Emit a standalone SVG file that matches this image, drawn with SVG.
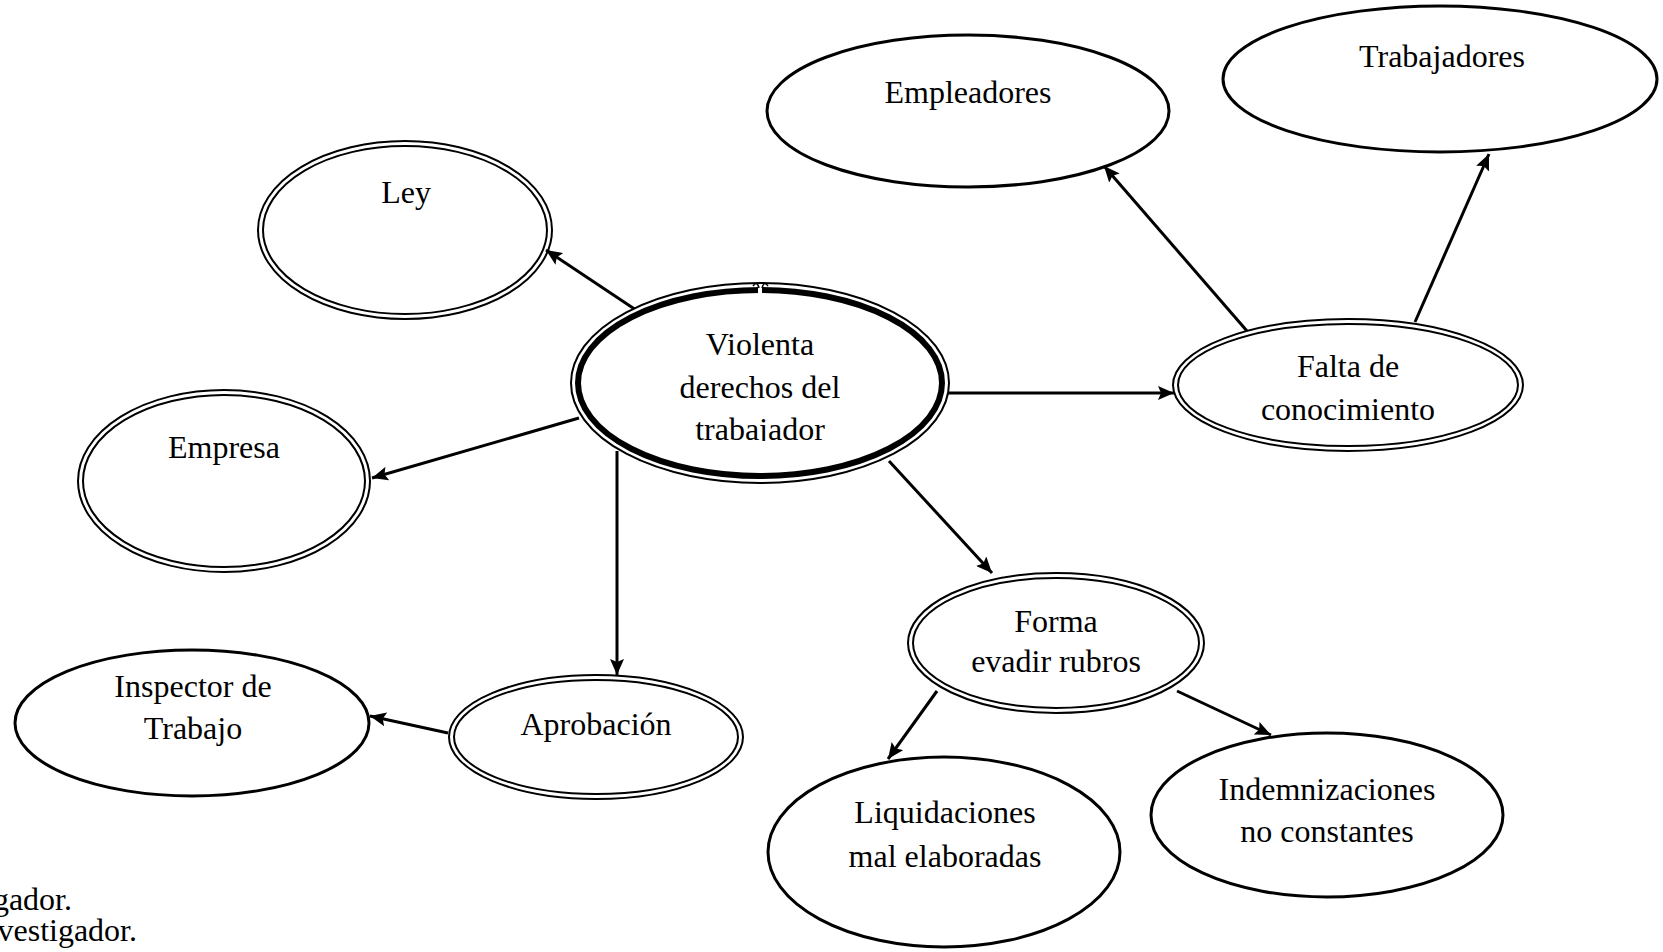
<svg xmlns="http://www.w3.org/2000/svg" width="1663" height="952" viewBox="0 0 1663 952">
  <style>
    .lbl { font-family: "Liberation Serif", "Times New Roman", serif; font-size: 32px; fill: #000; text-anchor: middle; }
    .cap { font-family: "Liberation Serif", "Times New Roman", serif; font-size: 32px; fill: #000; text-anchor: end; }
    .single { fill: #fff; stroke: #000; stroke-width: 3; }
    .dbl { fill: none; stroke: #000; stroke-width: 2; }
    .edge { fill: none; stroke: #000; stroke-width: 3; marker-end: url(#arrow); }
  </style>
  <defs>
    <marker id="arrow" markerUnits="userSpaceOnUse" markerWidth="18" markerHeight="14" refX="16" refY="7" orient="auto">
      <path d="M0,0 L16,7 L0,14 L3,7 z" fill="#000"/>
    </marker>
    <clipPath id="clipCentral">
      <rect x="560" y="280" width="400" height="161"/>
    </clipPath>
  </defs>
  <rect width="1663" height="952" fill="#fff"/>

  <!-- connectors -->
  <g id="connectors">
    <line class="edge" x1="636" y1="310" x2="546" y2="250"/>
    <line class="edge" x1="579" y1="418" x2="372" y2="478"/>
    <line class="edge" x1="617" y1="451" x2="617" y2="675"/>
    <line class="edge" x1="448" y1="733" x2="370" y2="716"/>
    <line class="edge" x1="941" y1="393" x2="1174" y2="393"/>
    <line class="edge" x1="889" y1="461" x2="992" y2="573"/>
    <line class="edge" x1="1247" y1="331" x2="1104" y2="166"/>
    <line class="edge" x1="1415" y1="322" x2="1489" y2="154"/>
    <line class="edge" x1="937" y1="691" x2="888" y2="759"/>
    <line class="edge" x1="1177" y1="691" x2="1271" y2="735"/>
  </g>

  <!-- central node -->
  <g id="n-central">
    <ellipse cx="760" cy="383" rx="189" ry="100" fill="#fff" stroke="#000" stroke-width="2"/>
    <ellipse cx="760" cy="383" rx="182" ry="93" fill="none" stroke="#000" stroke-width="6"/>
    <rect x="758" y="284" width="4" height="12" fill="#fff"/>
    <path d="M753,286 Q757,280 759,288 M762,288 Q764,280 768,286" fill="none" stroke="#000" stroke-width="1.5"/>
    <text class="lbl" x="760" y="355">Violenta</text>
    <text class="lbl" x="760" y="398">derechos del</text>
    <text class="lbl" x="760" y="440" clip-path="url(#clipCentral)">trabajador</text>
  </g>

  <g id="n-ley">
    <ellipse cx="405" cy="230" rx="147" ry="89" fill="#fff" class="dbl"/>
    <ellipse cx="405" cy="230" rx="142" ry="84" class="dbl"/>
    <text class="lbl" x="406" y="203">Ley</text>
  </g>

  <g id="n-empresa">
    <ellipse cx="224" cy="481" rx="146" ry="91" fill="#fff" class="dbl"/>
    <ellipse cx="224" cy="481" rx="141" ry="86" class="dbl"/>
    <text class="lbl" x="224" y="458">Empresa</text>
  </g>

  <g id="n-aprobacion">
    <ellipse cx="596" cy="737" rx="147" ry="62" fill="#fff" class="dbl"/>
    <ellipse cx="596" cy="737" rx="142" ry="57" class="dbl"/>
    <text class="lbl" x="596" y="735">Aprobación</text>
  </g>

  <g id="n-inspector">
    <ellipse class="single" cx="192" cy="723" rx="177" ry="73"/>
    <text class="lbl" x="193" y="697">Inspector de</text>
    <text class="lbl" x="193" y="739">Trabajo</text>
  </g>

  <g id="n-empleadores">
    <ellipse class="single" cx="968" cy="111" rx="201" ry="76"/>
    <text class="lbl" x="968" y="103">Empleadores</text>
  </g>

  <g id="n-trabajadores">
    <ellipse class="single" cx="1440" cy="79" rx="217" ry="73"/>
    <text class="lbl" x="1442" y="67">Trabajadores</text>
  </g>

  <g id="n-falta">
    <ellipse cx="1348" cy="385" rx="175" ry="66" fill="#fff" class="dbl"/>
    <ellipse cx="1348" cy="385" rx="170" ry="61" class="dbl"/>
    <text class="lbl" x="1348" y="377">Falta de</text>
    <text class="lbl" x="1348" y="420">conocimiento</text>
  </g>

  <g id="n-forma">
    <ellipse cx="1056" cy="643" rx="148" ry="70" fill="#fff" class="dbl"/>
    <ellipse cx="1056" cy="643" rx="143" ry="65" class="dbl"/>
    <text class="lbl" x="1056" y="632">Forma</text>
    <text class="lbl" x="1056" y="672">evadir rubros</text>
  </g>

  <g id="n-liquidaciones">
    <ellipse class="single" cx="944" cy="852" rx="176" ry="95"/>
    <text class="lbl" x="945" y="823">Liquidaciones</text>
    <text class="lbl" x="945" y="867">mal elaboradas</text>
  </g>

  <g id="n-indemnizaciones">
    <ellipse class="single" cx="1327" cy="815" rx="176" ry="82"/>
    <text class="lbl" x="1327" y="800">Indemnizaciones</text>
    <text class="lbl" x="1327" y="842">no constantes</text>
  </g>

  <!-- caption fragments at the left margin -->
  <text class="cap" x="72" y="910">gador.</text>
  <text class="cap" x="137" y="941">vestigador.</text>
</svg>
